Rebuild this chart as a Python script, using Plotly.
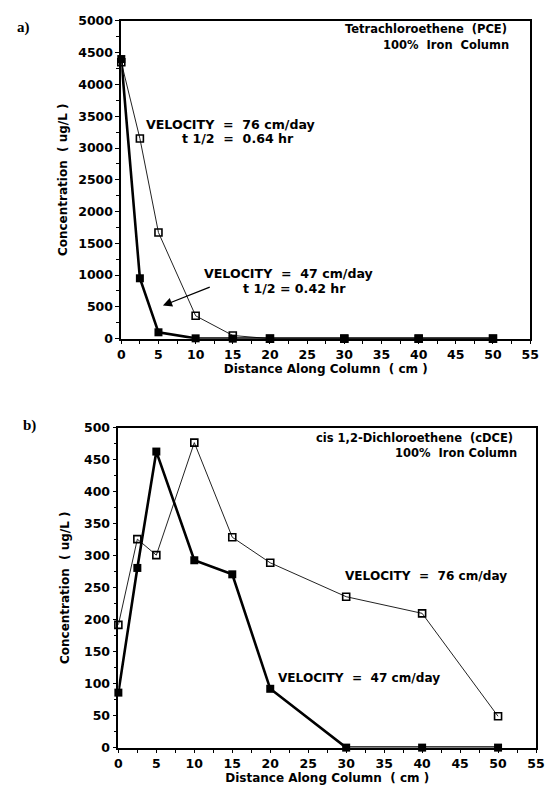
import plotly.graph_objects as go

# ---------------- data ----------------
distance = [0, 2.5, 5, 10, 15, 20, 30, 40, 50]

# a) Tetrachloroethene (PCE)
pce_v76 = [4350, 3150, 1670, 360, 50, 0, 0, 0, 0]
pce_v47 = [4400, 950, 100, 5, 0, 0, 0, 0, 0]

# b) cis 1,2-Dichloroethene (cDCE)
cdce_v76 = [192, 326, 301, 477, 329, 289, 236, 210, 49]
cdce_v47 = [86, 281, 463, 293, 271, 92, 0, 0, 0]

x_ticks = [0, 5, 10, 15, 20, 25, 30, 35, 40, 45, 50, 55]
ya_ticks = list(range(0, 5001, 500))
yb_ticks = list(range(0, 501, 50))

# page body has an 8px margin: figure is sized so page == window
OFF = 8
W, H = 554 - 2 * OFF, 794 - 2 * OFF
TICKFONT = dict(family="DejaVu Sans", size=12.5, color="black", weight="bold")
TITLEFONT = dict(family="DejaVu Sans", size=12, color="black", weight="bold")
TXTFONT = dict(family="DejaVu Sans", size=11.5, color="black", weight="bold")
VELFONT_A = dict(family="DejaVu Sans", size=12.6, color="black", weight="bold")
VELFONT_B = dict(family="DejaVu Sans", size=12.1, color="black", weight="bold")
NB = "\u00a0"

fig = go.Figure()

def add_pair(xa, ya, v76, v47):
    fig.add_trace(go.Scatter(
        x=distance, y=v76, xaxis=xa, yaxis=ya, mode="lines+markers",
        line=dict(color="#222", width=1),
        marker=dict(symbol="square-open", size=7, color="black",
                    line=dict(width=1.6, color="black")),
        cliponaxis=False, showlegend=False))
    fig.add_trace(go.Scatter(
        x=distance, y=v47, xaxis=xa, yaxis=ya, mode="lines+markers",
        line=dict(color="black", width=2.6),
        marker=dict(symbol="square", size=8, color="black"),
        cliponaxis=False, showlegend=False))

add_pair("x", "y", pce_v76, pce_v47)
add_pair("x2", "y2", cdce_v76, cdce_v47)

def px_x(p):
    return (p - OFF) / W

def px_y(p):
    return 1 - (p - OFF) / H

axis_common = dict(showgrid=False, zeroline=False, showline=True, mirror=True,
                   linecolor="black", linewidth=1.6, ticks="outside",
                   ticklen=4, tickwidth=1.4, tickcolor="black",
                   tickfont=TICKFONT, ticklabeloverflow="allow")

xa_common = dict(axis_common, range=[0, 55], tickvals=x_ticks,
                 minor=dict(dtick=2.5, ticklen=4, tickwidth=1.2, tickcolor="black", ticks="outside"),
                 title=dict(text="Distance Along Column" + NB + NB + "(" + NB + "cm" + NB + ")",
                            font=TITLEFONT, standoff=3))

ytitle = "Concentration" + NB + NB + "(" + NB + "ug/L" + NB + ")"

fig.update_layout(
    width=W, height=H,
    margin=dict(l=0, r=0, t=0, b=0),
    paper_bgcolor="white", plot_bgcolor="white",
    xaxis=dict(xa_common, domain=[px_x(120), px_x(539)], anchor="y"),
    yaxis=dict(axis_common, domain=[px_y(337), px_y(13)], anchor="x",
               range=[0, 5000], tickvals=ya_ticks,
               minor=dict(dtick=250, ticklen=3, tickwidth=1.2, tickcolor="black", ticks="outside"),
               title=dict(text=ytitle, font=TITLEFONT, standoff=8)),
    xaxis2=dict(xa_common, domain=[px_x(117), px_x(545)], anchor="y2"),
    yaxis2=dict(axis_common, domain=[px_y(754), px_y(428)], anchor="x2",
                range=[0, 500], tickvals=yb_ticks,
                minor=dict(dtick=25, ticklen=3, tickwidth=1.2, tickcolor="black", ticks="outside"),
                title=dict(text=ytitle, font=TITLEFONT, standoff=12)),
)

def txt(xref, yref, x, y, s, anchor="left", font=TXTFONT):
    fig.add_annotation(xref=xref, yref=yref, x=x, y=y, text=s, showarrow=False,
                       xanchor=anchor, yanchor="middle", font=font)

eq = NB + NB + "=" + NB + NB
# panel a
txt("x", "y", 52.2, 4870, "Tetrachloroethene" + NB + NB + "(PCE)", "right")
txt("x", "y", 52.4, 4620, "100%" + NB + NB + "Iron" + NB + NB + "Column", "right")
txt("x", "y", 3.0, 3375, "VELOCITY" + eq + "76 cm/day", font=VELFONT_A)
txt("x", "y", 7.9, 3150, "t 1/2" + eq + "0.64 hr", font=VELFONT_A)
txt("x", "y", 10.9, 1022, "VELOCITY" + eq + "47 cm/day", font=VELFONT_A)
txt("x", "y", 16.1, 790, "t 1/2" + NB + "=" + NB + "0.42 hr", font=VELFONT_A)
fig.add_annotation(xref="x", yref="y", x=5.6, y=520, ax=12.1, ay=820,
                   axref="x", ayref="y", text="", showarrow=True,
                   arrowhead=2, arrowsize=1.4, arrowwidth=1.3, arrowcolor="black")

# panel b
txt("x2", "y2", 52.2, 484, "cis 1,2-Dichloroethene" + NB + NB + "(cDCE)", "right")
txt("x2", "y2", 52.7, 460, "100%" + NB + NB + "Iron" + NB + "Column", "right")
txt("x2", "y2", 29.6, 268, "VELOCITY" + eq + "76 cm/day", font=VELFONT_B)
txt("x2", "y2", 20.7, 109, "VELOCITY" + eq + "47 cm/day", font=VELFONT_B)

# panel labels
LBL = dict(family="Liberation Serif", size=15, color="black", weight="bold")
fig.add_annotation(xref="paper", yref="paper", x=px_x(11), y=px_y(20), text="a)",
                   showarrow=False, xanchor="left", yanchor="middle", font=LBL)
fig.add_annotation(xref="paper", yref="paper", x=px_x(17), y=px_y(426), text="b)",
                   showarrow=False, xanchor="left", yanchor="middle", font=LBL)

fig.write_html("out.html")
